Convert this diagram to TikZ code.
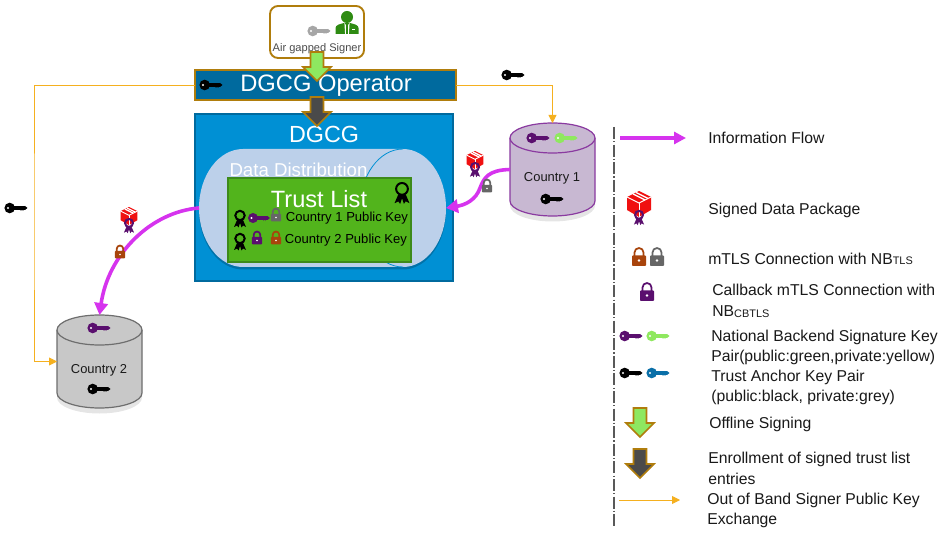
\documentclass[tikz,border=0pt]{standalone}
\usepackage{fontspec}
\setmainfont{Liberation Sans}
\usetikzlibrary{arrows.meta}
\definecolor{opblue}{HTML}{006A9E}
\definecolor{dgblue}{HTML}{0090D4}
\definecolor{cylblue}{HTML}{BCD0EA}
\definecolor{tlgreen}{HTML}{52B41C}
\definecolor{tlborder}{HTML}{3D8A1A}
\definecolor{gold}{HTML}{B07D0C}
\definecolor{oline}{HTML}{F5B01F}
\definecolor{mag}{HTML}{D633EE}
\definecolor{keypurple}{HTML}{5A0F6E}
\definecolor{keygreen}{HTML}{8FE85F}
\definecolor{keyblue}{HTML}{0A6FA8}
\definecolor{keygray}{HTML}{A6A6A6}
\definecolor{lockorange}{HTML}{A8440C}
\definecolor{lockgray}{HTML}{666666}
\definecolor{pkgred}{HTML}{F01010}
\definecolor{persongreen}{HTML}{2E8B12}
\definecolor{arrowgreen}{HTML}{8EE860}
\definecolor{arrowdark}{HTML}{4A4A4A}
\definecolor{cAfill}{HTML}{C8B8D2}
\definecolor{cAline}{HTML}{8A3AA0}
\definecolor{cBfill}{HTML}{C8C8C8}
\definecolor{cBline}{HTML}{6E6E6E}
\tikzset{
  x=0.75pt,y=-0.75pt,
  flow/.style={draw=mag,line width=2.7pt,-{Triangle[length=9pt,width=10pt]}},
  oob/.style={draw=oline,line width=0.65pt,-{Triangle[length=6pt,width=6pt]}},
  txt/.style={inner sep=0,font=\fontsize{#1}{#1}\selectfont},
  legend/.style={inner sep=0,anchor=west,align=left,font=\fontsize{11.8}{15.6}\selectfont,text=black!90},
  anchorbox/.style={inner sep=0,outer sep=0},
  pics/keyic/.style={code={
    \fill[#1] (-6.3,0) circle[radius=5.3];
    \fill[#1] (-3,-2) rectangle (9,1.6);
    \fill[#1] (9,-2) -- (11.5,0) -- (9,2) -- (8,1.6) -- (7,2.8) -- (6,1.6) -- (5,2.8) -- (4,1.6) -- cycle;
    \fill[white] (-8,0) circle[radius=1.2];
  }},
  pics/lockic/.style={code={
    \draw[#1,line width=1.3pt] (-4.5,0) -- (-4.5,-4.5) arc[start angle=180,end angle=360,radius=4.5] -- (4.5,0);
    \fill[#1,rounded corners=0.6pt] (-7,-1.5) rectangle (7,9);
    \fill[white] (0,3.5) circle[radius=1.3];
  }},
  pics/ribbonic/.style={code={
    \fill[#1] (-3,2) -- (-6,9) -- (-3,7.5) -- (-1.5,9.5) -- (0,5) -- (1.5,9.5) -- (3,7.5) -- (6,9) -- (3,2) -- cycle;
    \draw[#1,line width=1.5pt,fill=none] (0,-2.5) circle[radius=4.7];
  }},
  pics/packageic/.style={code={
    \fill[pkgred] (0,-13) -- (12,-7) -- (12,6) -- (0,13) -- (-12,6) -- (-12,-7) -- cycle;
    \draw[white,line width=0.7pt] (-12,-7) -- (0,-1) -- (12,-7);
    \draw[white,line width=0.7pt] (0,-1) -- (0,13);
    \draw[white,line width=1pt] (-6,-10) -- (6,-4);
    \draw[white,line width=1pt] (-3,-11.5) -- (9,-5.5);
    \pic[scale=0.85] at (0,13) {ribbonic=keypurple};
  }},
  pics/personic/.style={code={
    \fill[persongreen] (0,-5) circle[radius=6];
    \fill[persongreen] (-11.5,12) -- (-11.5,6) .. controls (-11.5,3) and (-7,2) .. (-3,1) -- (3,1) .. controls (7,2) and (11.5,3) .. (11.5,6) -- (11.5,12) -- cycle;
    \fill[white] (-2.6,1) -- (-1.9,12) -- (-1.1,12) -- (-1.1,3) -- cycle;
    \fill[white] (2.6,1) -- (1.9,12) -- (1.1,12) -- (1.1,3) -- cycle;
    \fill[white] (4.5,7) rectangle (7.5,8);
  }},
  pics/fatarrow/.style={code={
    \draw[draw=gold,line width=1.2pt,fill=#1,line join=miter]
      (-6.5,0) -- (6.5,0) -- (6.5,15) -- (14,15) -- (0,29) -- (-14,15) -- (-6.5,15) -- cycle;
  }},
  pics/cylic/.style 2 args={code={
    \fill[black,opacity=0.10] (-42.5,-29) -- (-42.5,36) arc[start angle=180,end angle=0,x radius=42.5,y radius=16] -- (42.5,-29) -- cycle;
    \fill[#1] (-42.5,-31.5) -- (-42.5,31.5) arc[start angle=180,end angle=0,x radius=42.5,y radius=15] -- (42.5,-31.5) -- cycle;
    \draw[#2,line width=0.9pt] (-42.5,-31.5) -- (-42.5,31.5) arc[start angle=180,end angle=0,x radius=42.5,y radius=15] -- (42.5,-31.5);
    \draw[#2,line width=0.9pt,fill=#1] (0,-31.5) ellipse[x radius=42.5,y radius=15];
  }}
}
\newcommand{\smallsub}[1]{{\fontsize{8.2}{8.2}\selectfont\raisebox{-0.4pt}{#1}}}
\begin{document}
\begin{tikzpicture}
\useasboundingbox (0,0) rectangle (945,534);
\fill[white] (0,0) rectangle (945,534);

% Signer
\node[anchorbox,draw=gold,line width=1.4pt,rounded corners=6pt,fill=white,minimum width=70.5pt,minimum height=39pt] (signer) at (317,32) {};
\pic at (319,31) {keyic=keygray};
\pic at (347,22) {personic};
\node[txt=8.3,text=black!70] (signertxt) at (317,49) {Air gapped Signer};

% DGCG box
\node[anchorbox,draw=opblue,line width=1.1pt,fill=dgblue,minimum width=193.5pt,minimum height=125.25pt] (dgcg) at (324,197.5) {};
\node[txt=17.5,text=white] (dgcgtxt) at (324,134) {DGCG};

% Operator
\node[anchorbox,draw=gold,line width=1.3pt,fill=opblue,minimum width=195.75pt,minimum height=22.5pt] (op) at (325.5,85) {};
\node[txt=17.8,text=white] (optxt) at (326,86) {DGCG Operator};
\pic at (211,85) {keyic=black};

% Data distribution cylinder
\fill[opblue!85!black,opacity=0.55] (243,151.5) -- (403,151.5) arc[start angle=270,end angle=450,x radius=43,y radius=59] -- (243,269.5) arc[start angle=90,end angle=270,x radius=44,y radius=59] -- cycle;
\fill[cylblue] (243,149) -- (403,149) arc[start angle=270,end angle=450,x radius=43,y radius=59] -- (243,267) arc[start angle=90,end angle=270,x radius=44,y radius=59] -- cycle;
\draw[dgblue,line width=0.6pt] (403,149) arc[start angle=270,end angle=90,x radius=43,y radius=59];
\node[anchorbox,minimum width=185.25pt,minimum height=88.5pt] (dist) at (322.5,208) {};
\node[txt=14,text=white] (disttxt) at (298.5,170) {Data Distribution};

% Trust list
\node[anchorbox,draw=tlborder,line width=0.9pt,fill=tlgreen,minimum width=137.25pt,minimum height=63pt] (tl) at (319.5,220) {};
\node[txt=17.7,text=white] (tltxt) at (319,199) {Trust List};
\pic[scale=1.25] at (402,192) {ribbonic=black};
\pic at (240,218) {ribbonic=black};
\pic at (240,241) {ribbonic=black};
\pic[scale=0.95] at (259,218) {keyic=keypurple};
\pic[scale=0.72] at (276,215) {lockic=lockgray};
\pic[scale=0.72] at (257,238) {lockic=keypurple};
\pic[scale=0.72] at (276,238) {lockic=lockorange};
\node[txt=9.8,text=black] (tl1) at (347,218) {Country 1 Public Key};
\node[txt=9.8,text=black] (tl2) at (346,240) {Country 2 Public Key};

% Fat arrows
\pic at (317,52) {fatarrow=arrowgreen};
\pic at (317,97) {fatarrow=arrowdark};

% Country 1
\node[anchorbox,minimum width=63.75pt,minimum height=69.75pt] (c1) at (552.5,169.5) {};
\pic at (552.5,169.5) {cylic={cAfill}{cAline}};
\node[txt=9.7,text=black!90] (c1txt) at (552,178) {Country 1};
\pic at (538,138) {keyic=keypurple};
\pic at (566,138) {keyic=keygreen};
\pic at (552,199) {keyic=black};

% Country 2
\node[anchorbox,minimum width=63.75pt,minimum height=69.75pt] (c2) at (99.5,361.5) {};
\pic at (99.5,361.5) {cylic={cBfill}{cBline}};
\node[txt=9.7,text=black!90] (c2txt) at (99,370) {Country 2};
\pic at (99,328) {keyic=keypurple};
\pic at (99,389) {keyic=black};

% Out-of-band connectors
\coordinate (bendL) at (34,220);
\draw[oob] (op.west) -| (bendL) |- (c2.west);
\draw[oob] (op.east) -| (c1.north);
\pic at (16,208) {keyic=black};
\pic at (513,75) {keyic=black};

% Flows
\draw[flow] (c1.west) .. controls (488,170) and (484,178) .. (480,188) .. controls (476,200) and (465,205) .. (dist.east);
\draw[flow] (dist.west) .. controls (150,212) and (108,255) .. (c2.north);
\pic[scale=0.7] at (475,160) {packageic};
\pic[scale=0.72] at (487,186) {lockic=lockgray};
\pic[scale=0.7] at (129,216) {packageic};
\pic[scale=0.72] at (120,252) {lockic=lockorange};

% Separator
\coordinate (sepA) at (614,127);
\coordinate (sepB) at (614,527);
\draw[black!65,line width=1pt,dash pattern=on 9pt off 1.6pt on 1pt off 1.6pt] (sepA) -- (sepB);

% Legend
\coordinate (fa) at (620,138);
\coordinate (fb) at (686,138);
\draw[draw=mag,line width=2.4pt,-{Triangle[length=9pt,width=9pt]}] (fa) -- (fb);
\node[legend] (l1) at (708,138) {Information Flow};
\pic at (639,204) {packageic};
\node[legend] (l2) at (708,210) {Signed Data Package};
\pic at (639,257) {lockic=lockorange};
\pic at (657,257) {lockic=lockgray};
\node[legend] (l3) at (708,259) {mTLS Connection with NB\smallsub{TLS}};
\pic at (647,292) {lockic=keypurple};
\node[legend] (l4) at (712,301) {Callback mTLS Connection with\\NB\smallsub{CBTLS}};
\pic at (631,336) {keyic=keypurple};
\pic at (658,336) {keyic=keygreen};
\node[legend] (l5) at (711,347.5) {National Backend Signature Key\\Pair(public:green,private:yellow)};
\pic at (631,373) {keyic=black};
\pic at (658,373) {keyic=keyblue};
\node[legend] (l6) at (711,387.5) {Trust Anchor Key Pair\\(public:black, private:grey)};
\pic at (640,408) {fatarrow=arrowgreen};
\node[legend] (l7) at (709,424) {Offline Signing};
\pic at (640,449) {fatarrow=arrowdark};
\node[legend] (l8) at (708,468) {Enrollment of signed trust list\\entries};
\coordinate (oa) at (619,500);
\coordinate (ob) at (680,500);
\draw[oob] (oa) -- (ob);
\node[legend] (l9) at (707,510.5) {Out of Band Signer Public Key\\Exchange};
\end{tikzpicture}
\end{document}
